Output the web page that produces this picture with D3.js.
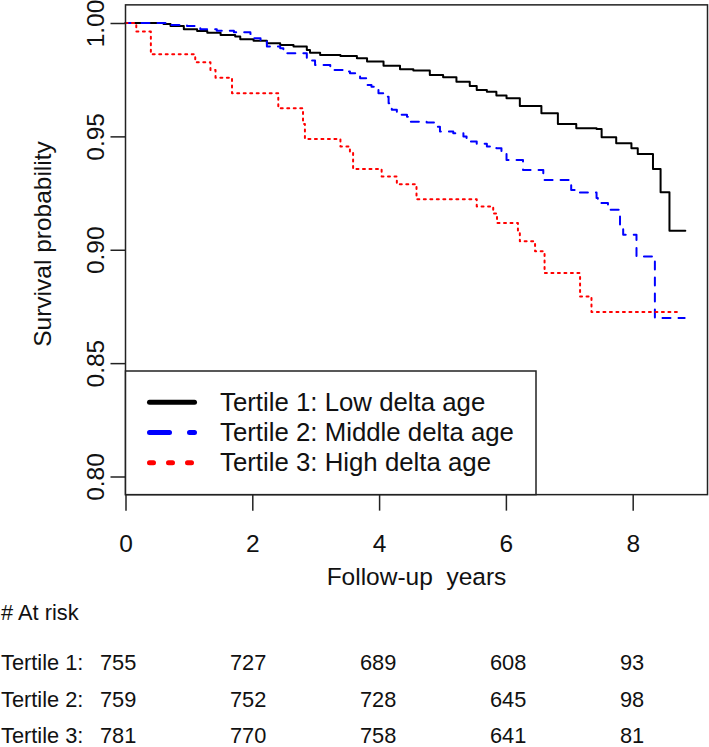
<!DOCTYPE html>
<html>
<head>
<meta charset="utf-8">
<script src="https://cdn.jsdelivr.net/npm/d3@7"></script>
<style>
  html, body { margin: 0; padding: 0; background: #fff; }
  svg text { font-family: "Liberation Sans", Arial, Helvetica, sans-serif; fill: #111; }
</style>
</head>
<body>
<svg id="chart" width="709" height="747"></svg>
<script>
// ---------------- data ----------------
const groupNames = ["Tertile 1: Low delta age", "Tertile 2: Middle delta age", "Tertile 3: High delta age"];
const groupColors = ["#000000", "#0000ff", "#ff0000"];

// Kaplan-Meier step points: event times (years) and survival after each step
const t1Times = [0, 0.60, 0.71, 0.92, 1.13, 1.29, 1.50, 1.73, 1.81, 2.02, 2.23, 2.44, 2.65, 2.86, 2.91, 3.07, 3.39, 3.65, 3.81, 4.07, 4.33, 4.54, 4.80, 5.01, 5.22, 5.43, 5.54, 5.70, 5.85, 6.01, 6.22, 6.56, 6.82, 7.11, 7.43, 7.51, 7.74, 7.98, 8.08, 8.32, 8.44, 8.58, 8.83];
const t1Surv  = [1, 0.9996, 0.9987, 0.9972, 0.9965, 0.9957, 0.9947, 0.9940, 0.9928, 0.9922, 0.9911, 0.9903, 0.9896, 0.9881, 0.9869, 0.9859, 0.9855, 0.9844, 0.9830, 0.9811, 0.9796, 0.9790, 0.9771, 0.9761, 0.9741, 0.9722, 0.9705, 0.9697, 0.9680, 0.9668, 0.9634, 0.9602, 0.9555, 0.9536, 0.9533, 0.9496, 0.9470, 0.9448, 0.9422, 0.9356, 0.9254, 0.9084, 0.9084];

const t2Times = [0, 0.66, 0.97, 1.18, 1.44, 1.71, 1.97, 2.02, 2.13, 2.23, 2.44, 2.49, 2.86, 2.99, 3.23, 3.28, 3.44, 3.54, 3.70, 3.81, 3.88, 3.99, 4.07, 4.15, 4.20, 4.28, 4.44, 4.49, 4.75, 4.88, 4.96, 5.17, 5.33, 5.38, 5.54, 5.70, 5.85, 5.93, 6.01, 6.27, 6.59, 7.03, 7.11, 7.43, 7.45, 7.61, 7.80, 7.85, 8.06, 8.35, 8.82];
const t2Surv  = [1, 0.9991, 0.9987, 0.9972, 0.9966, 0.9959, 0.9952, 0.9933, 0.9918, 0.9896, 0.9889, 0.9867, 0.9835, 0.9815, 0.9807, 0.9793, 0.9786, 0.9778, 0.9756, 0.9727, 0.9719, 0.9690, 0.9675, 0.9646, 0.9617, 0.9595, 0.9587, 0.9565, 0.9561, 0.9543, 0.9521, 0.9514, 0.9499, 0.9477, 0.9467, 0.9455, 0.9448, 0.9426, 0.9396, 0.9352, 0.9308, 0.9264, 0.9252, 0.9228, 0.9206, 0.9176, 0.9103, 0.9066, 0.8970, 0.8699, 0.8699];

const t3Times = [0, 0.17, 0.40, 1.10, 1.34, 1.42, 1.68, 2.41, 2.80, 2.83, 3.39, 3.54, 3.59, 4.04, 4.28, 4.59, 5.54, 5.80, 5.86, 6.19, 6.22, 6.46, 6.61, 7.17, 7.35, 8.71];
const t3Surv  = [1, 0.9962, 0.9862, 0.9827, 0.9793, 0.9759, 0.9690, 0.9624, 0.9555, 0.9488, 0.9455, 0.9427, 0.9356, 0.9323, 0.9289, 0.9223, 0.9191, 0.9160, 0.9118, 0.9074, 0.9037, 0.8993, 0.8897, 0.8794, 0.8725, 0.8725];

const xTicks = [0, 2, 4, 6, 8];
const yTicks = [0.80, 0.85, 0.90, 0.95, 1.00];

const atRiskTimes = [0, 2, 4, 6, 8];
const atRiskLabels = ["Tertile 1:", "Tertile 2:", "Tertile 3:"];
const atRisk1 = [755, 727, 689, 608, 93];
const atRisk2 = [759, 752, 728, 645, 98];
const atRisk3 = [781, 770, 758, 641, 81];

// ---------------- layout ----------------
const svg = d3.select("#chart");
const FONT_AX = 24.5, FONT_LEG = 25.8, FONT_RISK = 21.8;

const x = d3.scaleLinear().domain([0, 9.18]).range([125.5, 707.5]);
const y = d3.scaleLinear().domain([0.80, 1.00]).range([476.5, 23]);
const yLo = 0.792, yHi = 1.008;

const series = [
  {times: t1Times, surv: t1Surv, dash: null},
  {times: t2Times, surv: t2Surv, dash: "8,8"},
  {times: t3Times, surv: t3Surv, dash: "2,4.5"}
];

// curves
const line = d3.line().x(d => x(d[0])).y(d => y(d[1])).curve(d3.curveStepAfter);
series.forEach((s, i) => {
  const pts = s.times.map((t, k) => [t, s.surv[k]]);
  svg.append("path")
    .attr("d", line(pts))
    .attr("fill", "none")
    .attr("stroke", groupColors[i])
    .attr("stroke-width", 2)
    .attr("stroke-linecap", "round")
    .attr("stroke-linejoin", "round")
    .attr("stroke-dasharray", s.dash);
});

// axes
const xAxis = d3.axisBottom(x).tickValues(xTicks).tickSize(16).tickSizeOuter(0).tickFormat(d3.format("d"));
const gx = svg.append("g").attr("transform", `translate(0,${y(yLo)})`).call(xAxis);
gx.select(".domain").remove();
gx.selectAll(".tick line").attr("stroke", "#222").attr("stroke-width", 1.5);
gx.selectAll(".tick text").attr("y", 57).attr("dy", 0).attr("font-size", FONT_AX).attr("fill", "#111");

const yAxis = d3.axisLeft(y).tickValues(yTicks).tickSize(15).tickSizeOuter(0).tickFormat(d3.format(".2f"));
const gy = svg.append("g").attr("transform", `translate(${x(0)},0)`).call(yAxis);
gy.select(".domain").remove();
gy.selectAll(".tick line").attr("stroke", "#222").attr("stroke-width", 1.5);
gy.selectAll(".tick text")
  .attr("transform", "rotate(-90)")
  .attr("x", 0).attr("y", -22).attr("dy", 0)
  .attr("text-anchor", "middle")
  .attr("font-size", FONT_AX).attr("fill", "#111");

// plot box
svg.append("rect")
  .attr("x", x(0)).attr("y", y(yHi))
  .attr("width", x(9.18) - x(0)).attr("height", y(yLo) - y(yHi))
  .attr("fill", "none").attr("stroke", "#222").attr("stroke-width", 1.5);

// axis titles
svg.append("text")
  .attr("x", (x(0) + x(9.18)) / 2).attr("y", 585)
  .attr("text-anchor", "middle").attr("font-size", FONT_AX)
  .style("white-space", "pre")
  .text("Follow-up  years");
svg.append("text")
  .attr("transform", `translate(51,244) rotate(-90)`)
  .attr("text-anchor", "middle").attr("font-size", FONT_AX)
  .text("Survival probability");

// legend
const legX0 = x(0), legX1 = 536, legY0 = 371, legY1 = y(yLo);
svg.append("rect")
  .attr("x", legX0).attr("y", legY0)
  .attr("width", legX1 - legX0).attr("height", legY1 - legY0)
  .attr("fill", "#fff").attr("stroke", "#222").attr("stroke-width", 1.5);
const legDash = [null, "20,20", "4,15"];
groupNames.forEach((name, i) => {
  const ly = 402.3 + i * 30.2;
  svg.append("line")
    .attr("x1", 149.5).attr("x2", 194.5).attr("y1", ly).attr("y2", ly)
    .attr("stroke", groupColors[i]).attr("stroke-width", 5)
    .attr("stroke-linecap", "round")
    .attr("stroke-dasharray", legDash[i]);
  svg.append("text")
    .attr("x", 220).attr("y", ly + 8.6)
    .attr("font-size", FONT_LEG)
    .text(name);
});

// at-risk table
const rx = d3.scaleLinear().domain([0, 8]).range([100, 620]);
svg.append("text").attr("x", 1).attr("y", 620).attr("font-size", FONT_RISK).text("# At risk");
const riskRows = [atRisk1, atRisk2, atRisk3];
riskRows.forEach((row, i) => {
  const by = 670 + i * 36.5;
  svg.append("text").attr("x", 1).attr("y", by).attr("font-size", FONT_RISK).text(atRiskLabels[i]);
  row.forEach((v, k) => {
    svg.append("text").attr("x", rx(atRiskTimes[k])).attr("y", by)
      .attr("font-size", FONT_RISK).text(v);
  });
});
</script>
</body>
</html>
